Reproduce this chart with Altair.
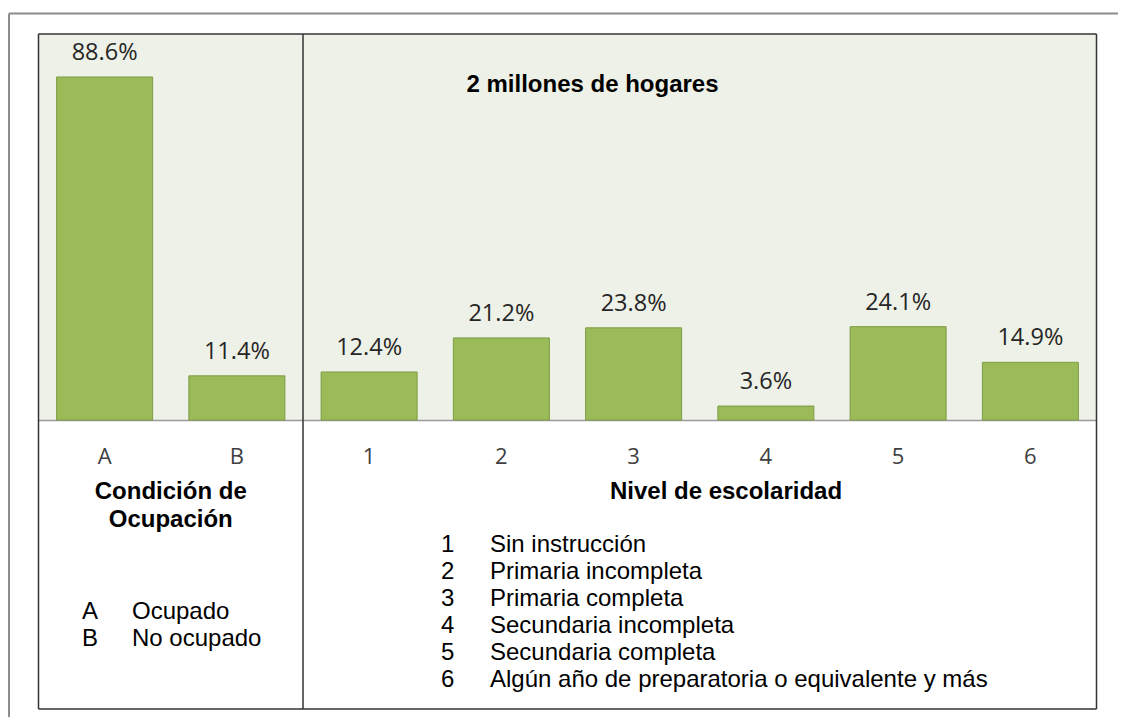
import altair as alt
import pandas as pd

# ---- data ----
categories = ["A", "B", "1", "2", "3", "4", "5", "6"]
values = [88.6, 11.4, 12.4, 21.2, 23.8, 3.6, 24.1, 14.9]
value_labels = [f"{v}%" for v in values]

title_top = "2 millones de hogares"
title_left = "Condición de\nOcupación"
title_right = "Nivel de escolaridad"
legend_left_keys = ["A", "B"]
legend_left_names = ["Ocupado", "No ocupado"]
legend_right_keys = ["1", "2", "3", "4", "5", "6"]
legend_right_names = [
    "Sin instrucción",
    "Primaria incompleta",
    "Primaria completa",
    "Secundaria incompleta",
    "Secundaria completa",
    "Algún año de preparatoria o equivalente y más",
]

df = pd.DataFrame({"cat": categories, "value": values, "label": value_labels})

W, H = 1058, 386
BOX_BOTTOM = 675
one = alt.Data(values=[{}])

x_enc = alt.X(
    "cat:N",
    sort=categories,
    scale=alt.Scale(paddingInner=0.274, paddingOuter=0.137),
    axis=alt.Axis(
        title=None, labelAngle=0, ticks=False, tickSize=0, labelPadding=43,
        labelBaseline="alphabetic", labelFont="Open Sans", labelFontSize=22,
        labelColor="#404040", domainColor="#9a9a9a", domainWidth=1.5,
        grid=False,
    ),
)
y_enc = alt.Y("value:Q", scale=alt.Scale(domain=[0, 99.7], nice=False, zero=True), axis=None)

bars = alt.Chart(df).mark_bar(
    fill="#9BBB59", stroke="#7D9C42", strokeWidth=1
).encode(x=x_enc, y=y_enc)

labels = alt.Chart(df).mark_text(
    dy=-17, baseline="alphabetic", font="Open Sans", fontSize=23.5, color="#262626"
).encode(x=alt.X("cat:N", sort=categories), y="value:Q", text="label:N")


def rule(x, x2, y, y2, color="#333333", width=1.5):
    return alt.Chart(one).mark_rule(color=color, strokeWidth=width).encode(
        x=alt.value(x), x2=alt.value(x2), y=alt.value(y), y2=alt.value(y2)
    )


def text(t, x, y, align="left", bold=False, size=24, line_height=27):
    return alt.Chart(one).mark_text(
        text=t, align=align, baseline="alphabetic", font="Liberation Sans",
        fontSize=size, fontWeight="bold" if bold else "normal", color="#000000",
        lineBreak="\n", lineHeight=line_height,
    ).encode(x=alt.value(x), y=alt.value(y))


rules = [
    rule(-29.5, 1095, -20.5, -20.5, color="#8c8c8c", width=2),   # outer frame top
    rule(-29.5, -29.5, -20.5, 700, color="#8c8c8c", width=2),    # outer frame left
    rule(0, W, 0, 0),
    rule(0, W, BOX_BOTTOM, BOX_BOTTOM),
    rule(0, 0, 0, BOX_BOTTOM),
    rule(W, W, 0, BOX_BOTTOM),
    rule(264.5, 264.5, 0, BOX_BOTTOM),
]

texts = [
    text(title_top, 554, 58, align="center", bold=True),
    text(title_left, 132.25, 465, align="center", bold=True, line_height=28),
    text(title_right, 687.5, 465, align="center", bold=True),
    text("\n".join(legend_left_keys), 43.5, 585),
    text("\n".join(legend_left_names), 93.5, 585),
    text("\n".join(legend_right_keys), 402.5, 518),
    text("\n".join(legend_right_names), 451.5, 518),
]

chart = alt.layer(bars, labels, *rules, *texts).properties(
    width=W, height=H,
    autosize=alt.AutoSizeParams(type="none"),
    padding={"left": 30.5, "top": 26, "right": 21.5, "bottom": 297},
    background="white",
).configure_view(fill="#EEF1E7", stroke=None)

chart.save("out.html", embed_options={"renderer": "svg", "actions": False})
